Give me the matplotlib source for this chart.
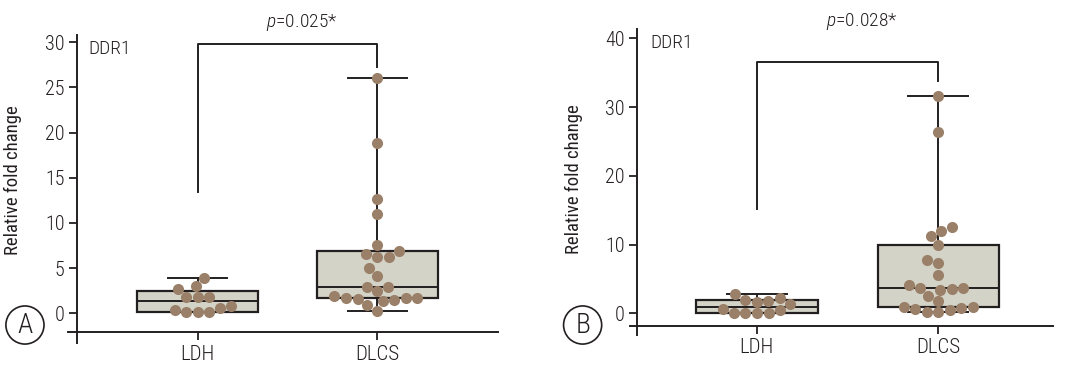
"""
DDR1 relative fold change, LDH vs DLCS (panels A and B)
"""
import numpy as np
import pandas as pd
import matplotlib
matplotlib.use('Agg')
import matplotlib.pyplot as plt
import seaborn as sns

groups = ['LDH', 'DLCS']
panel_letters = ['A', 'B']
p_texts = ['0.025', '0.028']

# values
ldh_a = [0.1, 0.1, 0.1, 0.4, 0.63, 0.85, 1.78, 1.78, 1.78, 2.67, 3.0, 3.9]
dlcs_a = [0.26, 0.89, 1.36, 1.47, 1.55, 1.69, 1.69, 1.69, 1.88, 2.47, 2.92, 2.92,
          4.17, 5.06, 6.27, 6.27, 6.53, 6.9, 7.5, 11.0, 12.6, 18.9, 26.0]
ldh_b = [0.05, 0.05, 0.05, 0.05, 0.5, 0.6, 1.35, 1.7, 1.8, 2.0, 2.2, 2.75]
dlcs_b = [0.15, 0.24, 0.48, 0.58, 0.72, 0.97, 0.97, 1.8, 2.5, 3.4, 3.6, 3.7, 3.7,
          4.15, 5.5, 7.25, 7.8, 10.0, 11.2, 11.95, 12.5, 26.3, 31.65]

# bracket: left foot, top, right foot
brackets = [[13.4, 29.85, 27.3], [15.1, 36.6, 33.8]]

y_ticks = [[0, 5, 10, 15, 20, 25, 30], [0, 10, 20, 30, 40]]

plt.rcParams['font.family'] = ['Roboto Condensed', 'Liberation Sans', 'DejaVu Sans']
plt.rcParams['font.weight'] = 300
plt.rcParams['mathtext.fontset'] = 'custom'
plt.rcParams['mathtext.rm'] = 'Roboto Condensed:light'
plt.rcParams['mathtext.it'] = 'Roboto Condensed:italic:light'

DARK = '#231f20'
BOX_FILL = '#d3d3c7'
DOT = '#9a8068'

fig = plt.figure(figsize=(10.71, 3.66), dpi=100)

# axes boxes, limits and spine positions for the two panels
axes_pos = [[0.0635, 0.0628, 0.4015, 0.8415], [0.588, 0.0847, 0.395, 0.835]]
x_lims = [(-0.72, 1.67), (-0.70, 1.63)]
y_lims = [(-3.3, 30.8), (-3.16, 41.3)]
left_spine_x = [-0.67, -0.66]
bottom_spine_y = [-2.1, -1.85]
p_y = [32.2, 42.4]
label_xy = [(-0.107, 0.53), (-0.111, 0.51)]
letter_xy = [(0.0233, 0.112), (0.544, 0.112)]

data = [[ldh_a, dlcs_a], [ldh_b, dlcs_b]]


def box_stats(values):
    """Prism style quartiles, whiskers min to max"""
    v = np.array(values)
    q1, med, q3 = np.percentile(v, [25, 50, 75], method='weibull')
    return dict(med=med, q1=q1, q3=q3, whislo=v.min(), whishi=v.max(), fliers=[])


for i in range(2):
    ax = fig.add_axes(axes_pos[i])
    ax.set_xlim(x_lims[i])
    ax.set_ylim(y_lims[i])

    stats = [box_stats(d) for d in data[i]]
    ax.bxp(stats, positions=[0, 1], widths=0.67, capwidths=0.33,
           patch_artist=True, showfliers=False,
           boxprops=dict(facecolor=BOX_FILL, edgecolor=DARK, linewidth=1.6),
           medianprops=dict(color=DARK, linewidth=1.4),
           whiskerprops=dict(color=DARK, linewidth=1.4),
           capprops=dict(color=DARK, linewidth=1.4))

    frame = pd.DataFrame({
        'group': [groups[0]] * len(data[i][0]) + [groups[1]] * len(data[i][1]),
        'value': data[i][0] + data[i][1],
    })
    sns.swarmplot(data=frame, x='group', y='value', order=groups, ax=ax,
                  color=DOT, size=8, linewidth=0, zorder=3)

    ax.set_xlim(x_lims[i])
    ax.set_ylim(y_lims[i])
    ax.set_xticks([0, 1])
    ax.set_xticklabels(groups)
    ax.set_yticks(y_ticks[i])
    ax.set_yticklabels([str(t) for t in y_ticks[i]])
    ax.set_xlabel('')
    ax.set_ylabel('Relative fold change', fontsize=13.5, color=DARK)
    ax.yaxis.set_label_coords(*label_xy[i])

    for side in ['top', 'right']:
        ax.spines[side].set_visible(False)
    ax.spines['left'].set_position(('data', left_spine_x[i]))
    ax.spines['bottom'].set_position(('data', bottom_spine_y[i]))
    for side in ['left', 'bottom']:
        ax.spines[side].set_linewidth(1.4)
        ax.spines[side].set_color(DARK)
    ax.tick_params(direction='out', length=6, width=1.3, color=DARK,
                   labelcolor=DARK, pad=3)
    ax.tick_params(axis='x', labelsize=15)
    ax.tick_params(axis='y', labelsize=14.5)

    b = brackets[i]
    ax.plot([0, 0, 1, 1], [b[0], b[1], b[1], b[2]], color=DARK, lw=1.4,
            clip_on=False)
    ax.text(0.58, p_y[i], '$p$=' + p_texts[i] + '*', ha='center', va='center',
            fontsize=14, color=DARK, clip_on=False)
    ax.text(0.048, 0.955, 'DDR1', transform=ax.transAxes, ha='left',
            va='center', fontsize=14, color=DARK)

    fig.text(letter_xy[i][0], letter_xy[i][1], panel_letters[i], ha='center',
             va='center', fontsize=20, color=DARK,
             bbox=dict(boxstyle='circle,pad=0.2', fc='white', ec=DARK, lw=1.2))

fig.savefig('out.png', dpi=100)
